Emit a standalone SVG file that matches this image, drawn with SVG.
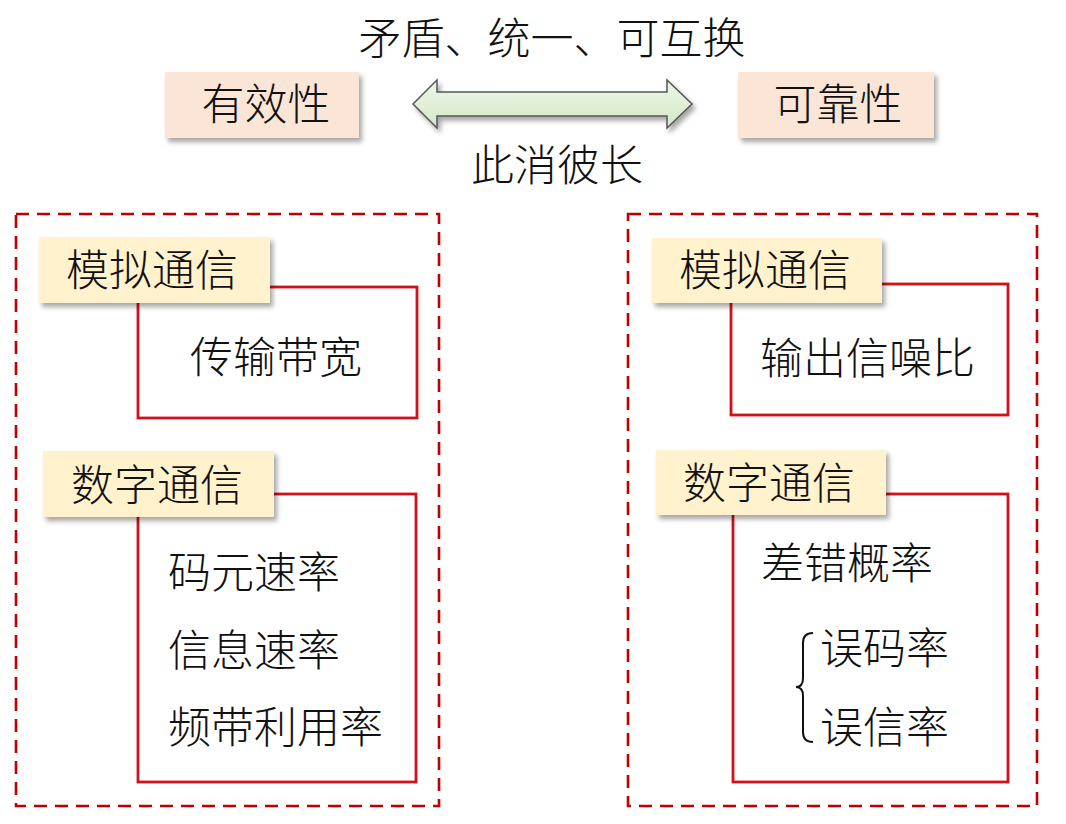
<svg xmlns="http://www.w3.org/2000/svg" width="1066" height="824" viewBox="0 0 1066 824">
<defs>
<filter id="sh" x="-10%" y="-20%" width="125%" height="150%">
<feDropShadow dx="3" dy="4" stdDeviation="2.5" flood-color="#000" flood-opacity="0.35"/>
</filter>
<linearGradient id="ag" x1="0" y1="0" x2="0" y2="1">
<stop offset="0" stop-color="#EEF6E8"/>
<stop offset="1" stop-color="#D3E8C6"/>
</linearGradient>
</defs>
<style>
text{font-family:"Noto Sans CJK SC","Noto Sans",sans-serif;font-size:43px;font-weight:300;fill:#111;}
.peach{fill:#FBE5D6;}
.yel{fill:#FFF2CC;}
.dash{fill:none;stroke:#C00000;stroke-width:2.6;stroke-dasharray:13 8;}
.red{fill:none;stroke:#D0101A;stroke-width:2.8;}
.c{text-anchor:middle;}
</style>
<rect width="1066" height="824" fill="#fff"/>
<g id="title"><text class="c" x="552" y="54">矛盾、统一、可互换</text></g>
<g id="effectiveness"><rect class="peach" x="165" y="72" width="194" height="66" filter="url(#sh)"/><text class="c" x="266" y="120">有效性</text></g>
<g id="reliability"><rect class="peach" x="738" y="72" width="196" height="66" filter="url(#sh)"/><text class="c" x="838" y="120">可靠性</text></g>
<g id="connectors">
<path d="M413 104 L437 80 L437 92 L667 92 L667 80 L692 104 L667 128 L667 116 L437 116 L437 128 Z" fill="url(#ag)" stroke="#555" stroke-width="1.5" stroke-linejoin="miter" filter="url(#sh)"/>
</g>
<g id="tradeoff"><text class="c" x="557" y="181">此消彼长</text></g>
<g id="left-group">
<rect class="dash" x="16" y="214" width="423" height="592"/>
<rect class="red" x="138" y="287" width="279" height="131"/>
<rect class="red" x="138" y="494" width="278" height="288"/>
</g>
<g id="left-analog"><rect class="yel" x="39" y="237" width="231" height="66" filter="url(#sh)"/><text x="66" y="286">模拟通信</text></g>
<g id="left-bandwidth"><text x="190" y="373">传输带宽</text></g>
<g id="left-digital"><rect class="yel" x="43" y="451" width="231" height="66" filter="url(#sh)"/><text x="71" y="501">数字通信</text></g>
<g id="left-digital-items">
<text x="168" y="588">码元速率</text>
<text x="168" y="666">信息速率</text>
<text x="168" y="743">频带利用率</text>
</g>
<g id="right-group">
<rect class="dash" x="628" y="214" width="409" height="592"/>
<rect class="red" x="731" y="284" width="277" height="131"/>
<rect class="red" x="733" y="494" width="275" height="288"/>
</g>
<g id="right-analog"><rect class="yel" x="652" y="238" width="230" height="65" filter="url(#sh)"/><text x="679" y="286">模拟通信</text></g>
<g id="right-snr"><text x="760" y="374">输出信噪比</text></g>
<g id="right-digital"><rect class="yel" x="656" y="450" width="230" height="65" filter="url(#sh)"/><text x="683" y="499">数字通信</text></g>
<g id="right-digital-items">
<text x="761" y="579">差错概率</text>
<path d="M813 633 Q803 633 803 643 L803 678 Q803 687 796 687 Q803 687 803 696 L803 732 Q803 742 813 742" fill="none" stroke="#111" stroke-width="2"/>
<text x="820" y="664">误码率</text>
<text x="820" y="743">误信率</text>
</g>
</svg>
